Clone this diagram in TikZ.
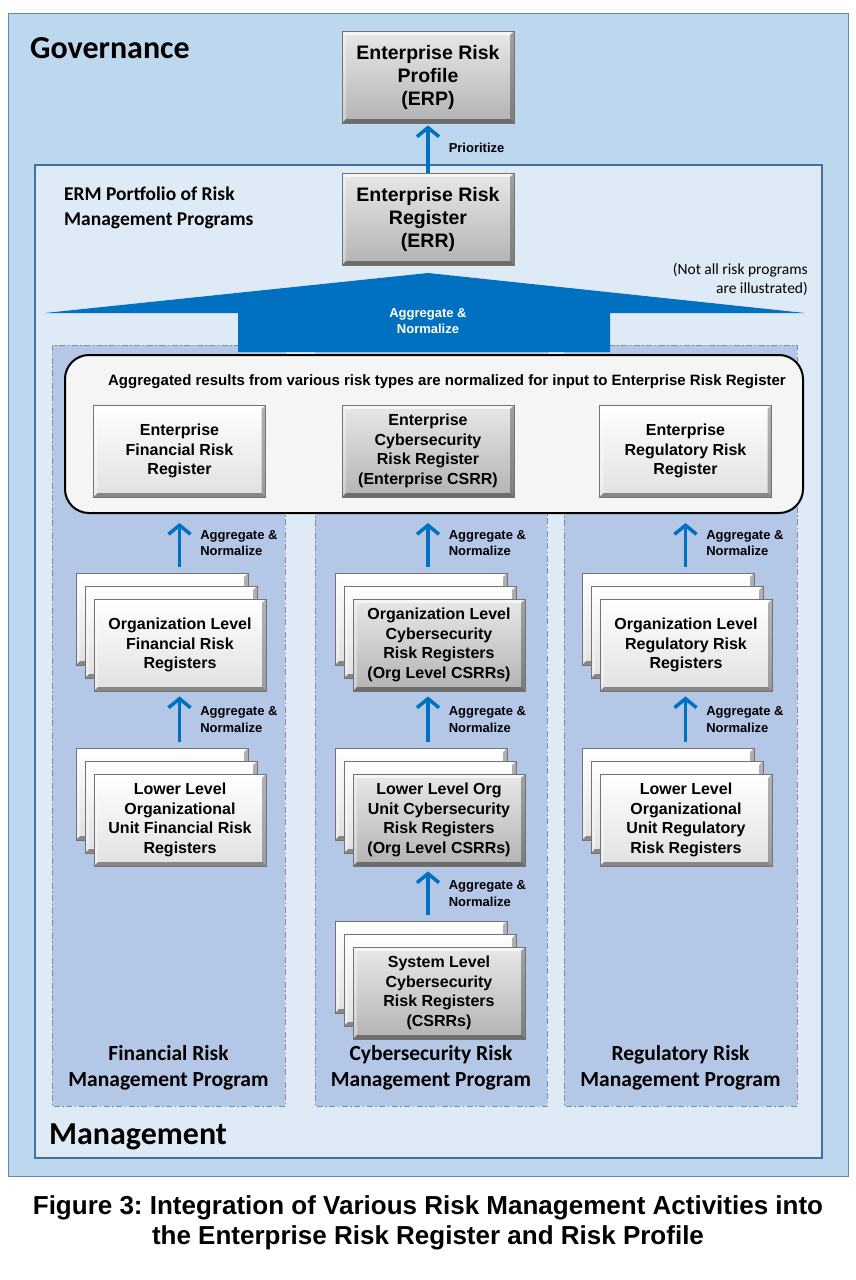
\documentclass[tikz,border=0pt]{standalone}
\usepackage{fontspec}
\setmainfont{Liberation Sans}
\newfontfamily\calfont{Carlito}
\usetikzlibrary{arrows.meta}
\frenchspacing

\definecolor{govblue}{HTML}{BDD7EE}
\definecolor{govedge}{HTML}{5B8DB8}
\definecolor{mgmtblue}{HTML}{DEEBF7}
\definecolor{edgeblue}{HTML}{41719C}
\definecolor{progblue}{HTML}{B4C7E7}
\definecolor{progedge}{HTML}{7F8FA9}
\definecolor{arrowblue}{HTML}{0070C0}

\tikzset{
  bevel/.style={path picture={
    \coordinate (bnw) at (path picture bounding box.north west);
    \coordinate (bne) at (path picture bounding box.north east);
    \coordinate (bsw) at (path picture bounding box.south west);
    \coordinate (bse) at (path picture bounding box.south east);
    \fill[white,opacity=.6] (bnw) -- (bne) -- ([xshift=-4pt,yshift=-4pt]bne) -- ([xshift=4pt,yshift=-4pt]bnw) -- cycle;
    \fill[white,opacity=.35] (bnw) -- (bsw) -- ([xshift=4pt,yshift=4pt]bsw) -- ([xshift=4pt,yshift=-4pt]bnw) -- cycle;
    \fill[black,opacity=.4] (bsw) -- (bse) -- ([xshift=-4pt,yshift=4pt]bse) -- ([xshift=4pt,yshift=4pt]bsw) -- cycle;
    \fill[black,opacity=.3] (bne) -- (bse) -- ([xshift=-4pt,yshift=4pt]bse) -- ([xshift=-4pt,yshift=-4pt]bne) -- cycle;
  }},
  graybox/.style={bevel, draw=black!55, line width=0.8pt, top color=black!9, bottom color=black!30,
    minimum width=172pt, minimum height=92pt, inner sep=0pt, align=center},
  whitebox/.style={graybox, top color=white, bottom color=black!12},
  topfont/.style={font=\fontsize{19.5}{23}\selectfont\bfseries},
  regfont/.style={font=\fontsize{16}{19.5}\selectfont\bfseries},
  upar/.style={arrowblue, line width=3.5pt, -{Straight Barb[length=9pt,width=22pt]}},
  aglabel/.style={anchor=west, xshift=19pt, inner sep=0pt, align=left, text=black, font=\fontsize{13}{16.5}\selectfont\bfseries},
  progpanel/.style={draw=progedge, fill=progblue, line width=1pt, dash pattern=on 6pt off 2.5pt on 1.5pt off 2.5pt},
  progfont/.style={align=center, inner sep=0pt, font=\fontsize{21.5}{26}\selectfont\calfont\bfseries},
  container/.style={draw=black, line width=2pt, fill=black!4, rounded corners=24pt, minimum width=738pt, minimum height=158pt},
}

\begin{document}
\begin{tikzpicture}[x=1pt,y=1pt,yscale=-1,xscale=1]
    \useasboundingbox (0,0) rectangle (856,1280);
    \fill[white] (0,0) rectangle (856,1280);
    %Shape: Rectangle [governance]
    \draw[draw=govedge, fill=govblue, line width=1pt] (8,13) rectangle (848,1176);
    %Shape: Rectangle [management]
    \draw[draw=edgeblue, fill=mgmtblue, line width=1.2pt] (35,165) rectangle (822,1158);
    %Shape: Rectangle [programs]
    \draw[progpanel] (52,345) rectangle (285,1106);
    \draw[progpanel] (315,345) rectangle (547,1106);
    \draw[progpanel] (564,345) rectangle (797,1106);
    %Shape: Up Arrow [aggregate]
    \fill[arrowblue] (428,273) -- (805,313) -- (610,313) -- (610,352) -- (238,352) -- (238,313) -- (45,313) -- cycle;
    % Text Node
    \draw (428,321) node[white, align=center, inner sep=0pt, font=\fontsize{13}{16.5}\selectfont\bfseries] (aggtop) {Aggregate \&\\Normalize};
    % Text Node
    \draw (30,48) node[anchor=west, inner sep=0pt, font=\fontsize{32}{36}\selectfont\calfont\bfseries] (gov) {Governance};
    % Text Node
    \draw (49,1137) node[anchor=west, inner sep=0pt, font=\fontsize{32}{36}\selectfont\calfont\bfseries] (mgmt) {Management};
    % Text Node
    \draw (64,207.5) node[anchor=west, align=left, inner sep=0pt, font=\fontsize{19.5}{25}\selectfont\calfont\bfseries] (erm) {ERM Portfolio of Risk\\Management Programs};
    % Text Node
    \draw (808,279.5) node[anchor=east, align=right, inner sep=0pt, font=\fontsize{15.5}{19}\selectfont\calfont] (notall) {(Not all risk programs\\are illustrated)};

    % Top registers
    \draw (428,77) node[graybox, topfont] (erp) {Enterprise Risk\\Profile\\(ERP)};
    \draw (428,219) node[graybox, topfont] (err) {Enterprise Risk\\Register\\(ERR)};
    \draw[upar, shorten >=2pt] (err.north) -- (erp.south) node[aglabel, midway] (prio) {Prioritize};

    % Enterprise level
    \draw (434,434) node[container] (cont) {};
    \draw (447,382) node[inner sep=0pt, font=\fontsize{15}{18}\selectfont\bfseries] (hdr) {Aggregated results from various risk types are normalized for input to Enterprise Risk Register};
    \draw (179.5,451) node[whitebox, regfont] (entfin) {Enterprise\\Financial Risk\\Register};
    \draw (428,451) node[graybox, regfont] (entcyb) {Enterprise\\Cybersecurity\\Risk Register\\(Enterprise CSRR)};
    \draw (685.5,451) node[whitebox, regfont] (entreg) {Enterprise\\Regulatory Risk\\Register};

    % Financial stacks
    \draw (162,619) node[whitebox] (orgfin-b2) {};
    \draw (171,632) node[whitebox] (orgfin-b1) {};
    \draw (180,645) node[whitebox, regfont] (orgfin) {Organization Level\\Financial Risk\\Registers};
    \draw (162,794) node[whitebox] (lowfin-b2) {};
    \draw (171,807) node[whitebox] (lowfin-b1) {};
    \draw (180,820) node[whitebox, regfont] (lowfin) {Lower Level\\Organizational\\Unit Financial Risk\\Registers};

    % Cybersecurity stacks
    \draw (421,619) node[whitebox] (orgcyb-b2) {};
    \draw (430,632) node[whitebox] (orgcyb-b1) {};
    \draw (439,645) node[graybox, regfont] (orgcyb) {Organization Level\\Cybersecurity\\Risk Registers\\(Org Level CSRRs)};
    \draw (421,794) node[whitebox] (lowcyb-b2) {};
    \draw (430,807) node[whitebox] (lowcyb-b1) {};
    \draw (439,820) node[graybox, regfont] (lowcyb) {Lower Level Org\\Unit Cybersecurity\\Risk Registers\\(Org Level CSRRs)};
    \draw (421,967) node[whitebox] (syscyb-b2) {};
    \draw (430,980) node[whitebox] (syscyb-b1) {};
    \draw (439,993) node[graybox, regfont] (syscyb) {System Level\\Cybersecurity\\Risk Registers\\(CSRRs)};

    % Regulatory stacks
    \draw (668,619) node[whitebox] (orgreg-b2) {};
    \draw (677,632) node[whitebox] (orgreg-b1) {};
    \draw (686,645) node[whitebox, regfont] (orgreg) {Organization Level\\Regulatory Risk\\Registers};
    \draw (668,794) node[whitebox] (lowreg-b2) {};
    \draw (677,807) node[whitebox] (lowreg-b1) {};
    \draw (686,820) node[whitebox, regfont] (lowreg) {Lower Level\\Organizational\\Unit Regulatory\\Risk Registers};

    % Aggregate arrows
    \draw[upar, shorten <=6pt, shorten >=9pt] (orgfin-b2.north -| entfin.south) -- (cont.south -| entfin.south) node[aglabel, midway] (agfin1) {Aggregate \&\\Normalize};
    \draw[upar, shorten <=6pt, shorten >=5pt] (lowfin-b2.north -| entfin.south) -- (orgfin.south -| entfin.south) node[aglabel, midway] (agfin2) {Aggregate \&\\Normalize};
    \draw[upar, shorten <=6pt, shorten >=9pt] (orgcyb-b2.north -| entcyb.south) -- (cont.south -| entcyb.south) node[aglabel, midway] (agcyb1) {Aggregate \&\\Normalize};
    \draw[upar, shorten <=6pt, shorten >=5pt] (lowcyb-b2.north -| entcyb.south) -- (orgcyb.south -| entcyb.south) node[aglabel, midway] (agcyb2) {Aggregate \&\\Normalize};
    \draw[upar, shorten <=6pt, shorten >=5pt] (syscyb-b2.north -| entcyb.south) -- (lowcyb.south -| entcyb.south) node[aglabel, midway] (agcyb3) {Aggregate \&\\Normalize};
    \draw[upar, shorten <=6pt, shorten >=9pt] (orgreg-b2.north -| entreg.south) -- (cont.south -| entreg.south) node[aglabel, midway] (agreg1) {Aggregate \&\\Normalize};
    \draw[upar, shorten <=6pt, shorten >=5pt] (lowreg-b2.north -| entreg.south) -- (orgreg.south -| entreg.south) node[aglabel, midway] (agreg2) {Aggregate \&\\Normalize};

    % Program labels
    \draw (168.5,1068) node[progfont] (finprog) {Financial Risk\\Management Program};
    \draw (431,1068) node[progfont] (cybprog) {Cybersecurity Risk\\Management Program};
    \draw (680.5,1068) node[progfont] (regprog) {Regulatory Risk\\Management Program};

    % Text Node
    \draw (428,1223) node[align=center, inner sep=0pt, font=\fontsize{26}{30}\selectfont\bfseries] (caption) {Figure 3: Integration of Various Risk Management Activities into\\the Enterprise Risk Register and Risk Profile};
\end{tikzpicture}
\end{document}
